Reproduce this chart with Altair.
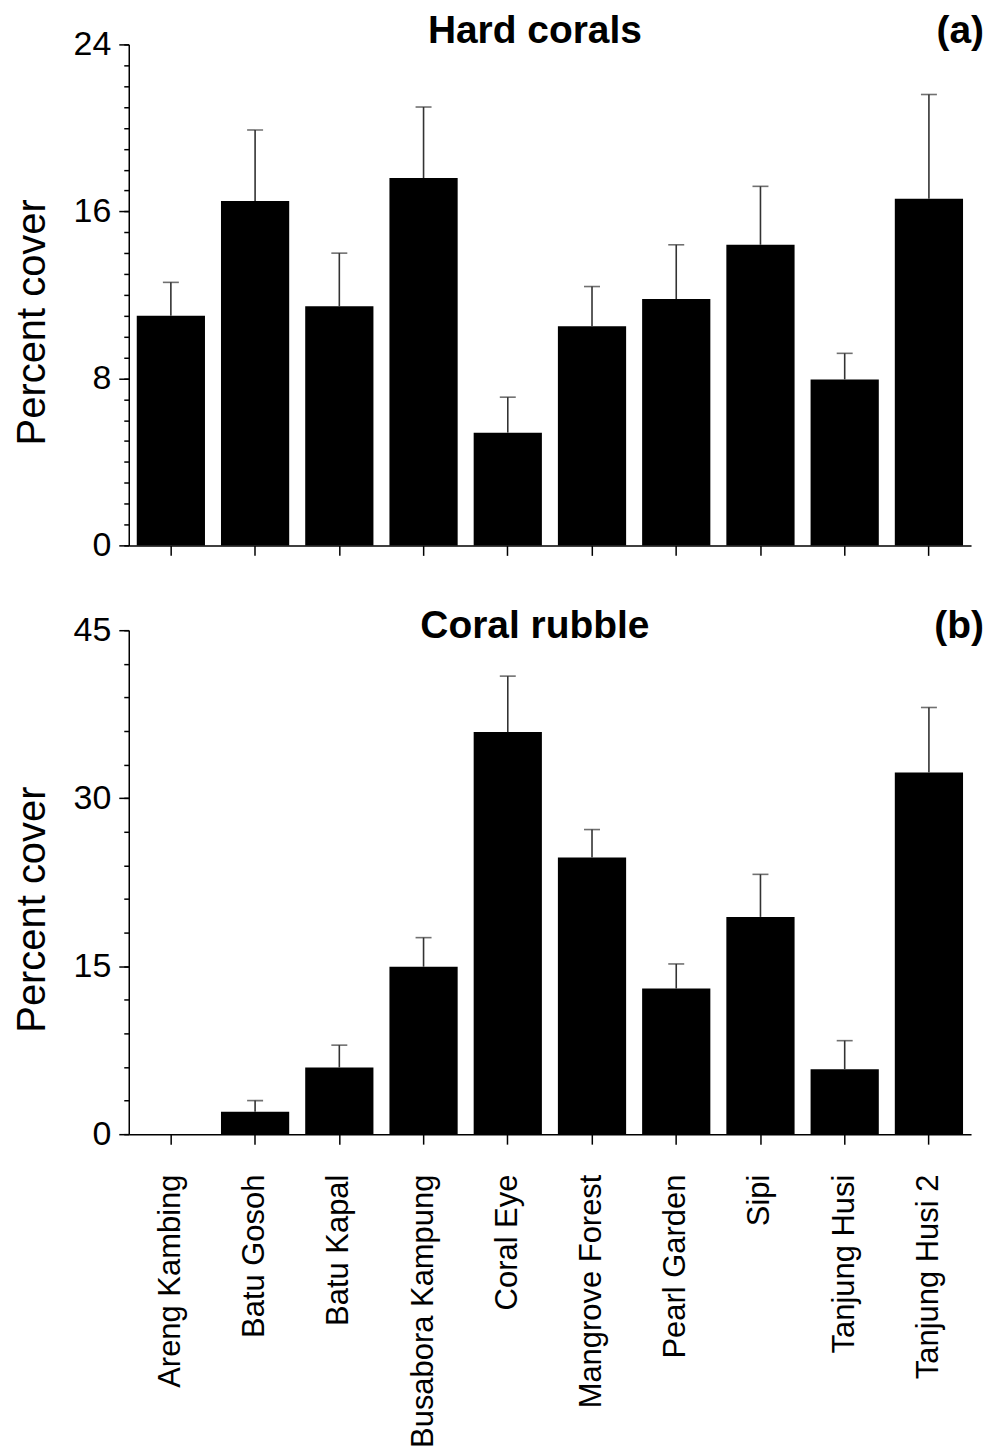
import altair as alt
import pandas as pd

FONT = "Liberation Sans"

sites = ["Areng Kambing", "Batu Gosoh", "Batu Kapal", "Busabora Kampung", "Coral Eye",
         "Mangrove Forest", "Pearl Garden", "Sipi", "Tanjung Husi", "Tanjung Husi 2"]

hard_mean = [11.0, 16.5, 11.45, 17.6, 5.4, 10.5, 11.8, 14.4, 7.95, 16.6]
hard_upper = [12.6, 19.9, 14.0, 21.0, 7.1, 12.4, 14.4, 17.2, 9.2, 21.6]

rubble_mean = [0.0, 2.0, 5.95, 14.95, 35.9, 24.7, 13.0, 19.4, 5.8, 32.3]
rubble_upper = [0.0, 3.0, 7.95, 17.55, 40.9, 27.2, 15.2, 23.2, 8.35, 38.1]

titles = ["Hard corals", "Coral rubble"]
tags = ["(a)", "(b)"]
hard_major = [0, 8, 16, 24]
hard_minor = list(range(0, 25, 1))
rubble_major = [0, 15, 30, 45]
rubble_minor = list(range(0, 46, 3))

W = 844


def panel(mean, upper, title, tag, ymax, major, minor, show_labels, text_y, H):
    df = pd.DataFrame({"site": sites, "value": mean, "upper": upper})
    base = alt.Chart(df)
    xaxis = alt.Axis(title=None, labels=show_labels, labelAngle=270, labelFontSize=31,
                     labelPadding=30, tickSize=10, labelAlign="right", labelBaseline="middle",
                     labelLimit=600)
    x = alt.X("site:N", sort=sites,
              scale=alt.Scale(paddingInner=0.19, paddingOuter=0.095), axis=xaxis)
    yscale = alt.Scale(domain=[0, ymax], nice=False, zero=True)

    bars = base.mark_bar(color="black").encode(
        x=x,
        y=alt.Y("value:Q", scale=yscale,
                axis=alt.Axis(values=major, title="Percent cover", labelFontSize=34,
                              labelPadding=8, tickSize=10, titleFontSize=40,
                              titleFontWeight="normal", titleAngle=270, titleX=-84,
                              titleY=H / 2 + 27, titleBaseline="alphabetic",
                              orient="left")),
    )
    errs = base.transform_filter("datum.upper > datum.value")
    rules = errs.mark_rule(color="#333333", strokeWidth=1.6).encode(
        x=x,
        y=alt.Y("value:Q", scale=yscale,
                axis=alt.Axis(values=minor, labels=False, domain=False, title=None,
                              tickSize=5, orient="left")),
        y2="upper:Q",
    )
    caps = errs.mark_tick(color="#333333", thickness=1.6, size=16).encode(
        x=x,
        y=alt.Y("upper:Q", scale=yscale, axis=None),
    )
    tdf = pd.DataFrame({"title": [title], "tag": [tag]})
    titletext = alt.Chart(tdf).mark_text(
        font=FONT, fontSize=39, fontWeight="bold", align="center", baseline="alphabetic",
        color="black"
    ).encode(text="title:N", x=alt.value(407), y=alt.value(text_y))
    tagtext = alt.Chart(tdf).mark_text(
        font=FONT, fontSize=39, fontWeight="bold", align="right", baseline="alphabetic",
        color="black"
    ).encode(text="tag:N", x=alt.value(W + 13), y=alt.value(text_y))

    return alt.layer(bars, rules, caps, titletext, tagtext).resolve_axis(
        y="independent").properties(width=W, height=H)


top = panel(hard_mean, hard_upper, titles[0], tags[0], 24, hard_major, hard_minor,
            False, -1, 502)
bottom = panel(rubble_mean, rubble_upper, titles[1], tags[1], 45, rubble_major,
               rubble_minor, True, 8, 505)

chart = alt.vconcat(top, bottom, spacing=85, bounds="flush").configure_view(
    stroke=None
).configure_axis(
    grid=False, domainColor="black", tickColor="black", domainWidth=1.5, tickWidth=1.5,
    labelFont=FONT, titleFont=FONT, labelColor="black", titleColor="black"
).properties(padding={"left": 5, "top": 3, "right": 5, "bottom": 5})

chart.save("out.html", embed_options={"renderer": "svg", "actions": False})
